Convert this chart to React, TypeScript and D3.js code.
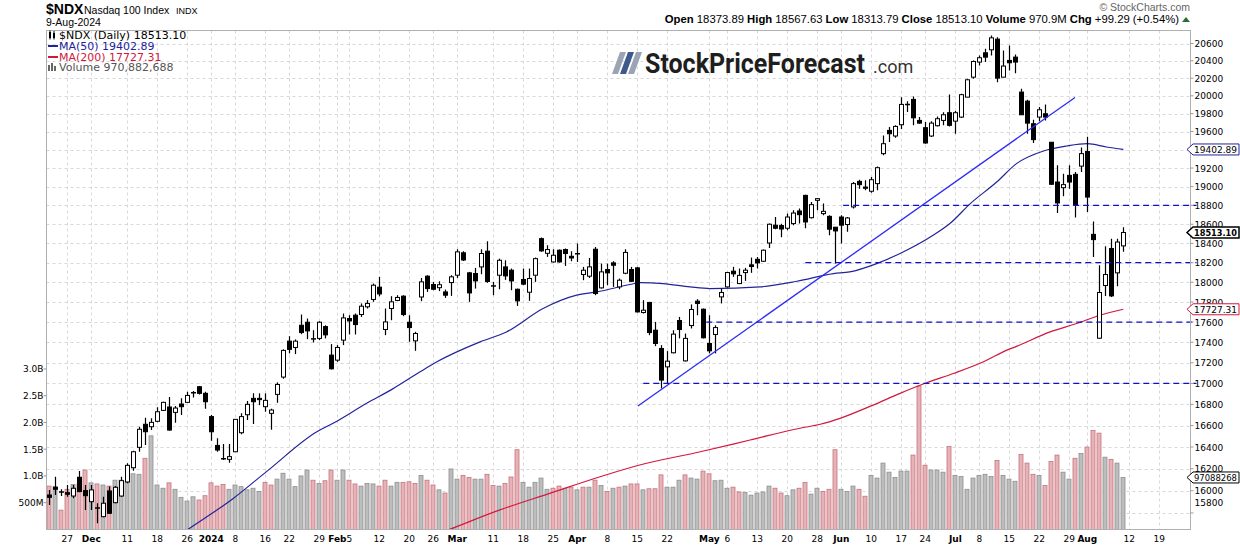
import { useEffect } from 'react';
import * as d3 from 'd3';

const W = 1240;
const H = 546;

// daily OHLC, 21-Nov-2023 .. 9-Aug-2024 (one row per trading day)
const ohlc: [number, number, number, number][] = [
  [15961, 16007, 15872, 15940], [16031, 16127, 15961, 16013], [15985, 16013, 15952, 15990], [15982, 16052, 15946, 15968],
  [15952, 16052, 15931, 16022], [16122, 16179, 15986, 15992], [16001, 16052, 15827, 15955], [15901, 16052, 15827, 16007],
  [15848, 15887, 15708, 15839], [15767, 15946, 15761, 15887], [15998, 16037, 15791, 15797], [15892, 16043, 15887, 16031],
  [15952, 16127, 15946, 16091], [16079, 16249, 16067, 16231], [16209, 16366, 16182, 16356], [16397, 16589, 16356, 16565],
  [16612, 16674, 16419, 16542], [16589, 16668, 16558, 16630], [16640, 16772, 16630, 16730], [16743, 16825, 16740, 16819],
  [16775, 16870, 16551, 16558], [16724, 16784, 16627, 16765], [16803, 16857, 16699, 16778], [16819, 16920, 16819, 16885],
  [16905, 16927, 16866, 16914], [16968, 16974, 16895, 16905], [16905, 16920, 16759, 16825], [16684, 16699, 16458, 16542],
  [16415, 16481, 16356, 16372], [16296, 16428, 16280, 16286], [16286, 16428, 16255, 16311], [16356, 16658, 16356, 16658],
  [16533, 16715, 16518, 16684], [16702, 16831, 16652, 16800], [16857, 16905, 16614, 16825], [16857, 16905, 16793, 16845],
  [16778, 16905, 16730, 16838], [16715, 16759, 16561, 16746], [16895, 17010, 16815, 16990], [17061, 17330, 17045, 17320],
  [17411, 17460, 17291, 17330], [17349, 17428, 17284, 17411], [17568, 17675, 17480, 17496], [17598, 17635, 17431, 17512],
  [17438, 17519, 17398, 17428], [17438, 17608, 17421, 17598], [17555, 17568, 17438, 17473], [17274, 17382, 17134, 17141],
  [17225, 17372, 17209, 17349], [17421, 17685, 17372, 17641], [17635, 17668, 17477, 17611], [17668, 17685, 17477, 17575],
  [17675, 17786, 17651, 17758], [17752, 17819, 17735, 17786], [17826, 17987, 17802, 17970], [17950, 18055, 17858, 17882],
  [17526, 17735, 17470, 17601], [17735, 17859, 17618, 17802], [17816, 17869, 17809, 17846], [17859, 17869, 17658, 17675],
  [17598, 17668, 17405, 17545], [17414, 17503, 17316, 17486], [17851, 18044, 17809, 18004], [18062, 18072, 17902, 17936],
  [17977, 18004, 17919, 17929], [17945, 18010, 17910, 17975], [17902, 17926, 17842, 17869], [17997, 18072, 17862, 18055],
  [18072, 18339, 18044, 18312], [18302, 18319, 18218, 18228], [18096, 18106, 17802, 17892], [18089, 18147, 17936, 18014],
  [18157, 18339, 18082, 18295], [18319, 18422, 17994, 18008], [17965, 18004, 17869, 17960], [18072, 18242, 17929, 18225],
  [18157, 18225, 18024, 18065], [18123, 18140, 17919, 18014], [17929, 17936, 17761, 17812], [18028, 18140, 17970, 17981],
  [17899, 18140, 17812, 18038], [18072, 18253, 18004, 18242], [18449, 18460, 18312, 18322], [18297, 18380, 18260, 18336],
  [18208, 18339, 18201, 18277], [18329, 18336, 18201, 18208], [18336, 18346, 18167, 18295], [18266, 18319, 18215, 18249],
  [18295, 18398, 18208, 18288], [18079, 18157, 18021, 18123], [18062, 18249, 18044, 18157], [18339, 18363, 17869, 17886],
  [17943, 18191, 17936, 18106], [18130, 18191, 17970, 18096], [18198, 18215, 17953, 18174], [17953, 18038, 17929, 18021],
  [18092, 18339, 18082, 18306], [18130, 18157, 18004, 18010], [18147, 18157, 17695, 17701], [17695, 17819, 17685, 17718],
  [17796, 17802, 17470, 17496], [17519, 17601, 17362, 17388], [17339, 17372, 16952, 17032], [17160, 17313, 17000, 17215],
  [17297, 17519, 17291, 17480], [17615, 17651, 17438, 17526], [17218, 17486, 17212, 17438], [17565, 17776, 17536, 17725],
  [17809, 17829, 17668, 17786], [17728, 17735, 17438, 17444], [17388, 17668, 17291, 17316], [17477, 17568, 17291, 17545],
  [17852, 17936, 17786, 17896], [17953, 18106, 17946, 18099], [18113, 18157, 18055, 18086], [17987, 18140, 17981, 18070],
  [18099, 18147, 18014, 18123], [18178, 18253, 18096, 18161], [18235, 18259, 18140, 18198], [18215, 18336, 18208, 18329],
  [18404, 18607, 18353, 18600], [18590, 18676, 18548, 18558], [18586, 18604, 18463, 18550], [18558, 18712, 18537, 18676],
  [18607, 18747, 18590, 18718], [18740, 18765, 18607, 18701], [18906, 18913, 18558, 18624], [18669, 18835, 18660, 18807],
  [18853, 18878, 18747, 18871], [18712, 18818, 18694, 18736], [18683, 18694, 18484, 18548], [18569, 18572, 18191, 18530],
  [18676, 18694, 18398, 18590], [18597, 18676, 18520, 18666], [18783, 19049, 18765, 19032], [19056, 19074, 18978, 19021],
  [18995, 19067, 18960, 18982], [18950, 19102, 18935, 19074], [19032, 19218, 18960, 19204], [19357, 19557, 19339, 19466],
  [19613, 19650, 19485, 19576], [19551, 19669, 19533, 19657], [19676, 19985, 19628, 19903], [19898, 19940, 19818, 19904],
  [19959, 19992, 19669, 19753], [19724, 19761, 19687, 19694], [19643, 19705, 19466, 19474], [19551, 19716, 19540, 19694],
  [19665, 19768, 19657, 19743], [19724, 19816, 19669, 19787], [19810, 20016, 19657, 19669], [19716, 19828, 19576, 19810],
  [19761, 20024, 19750, 20013], [19985, 20193, 19985, 20182], [20212, 20404, 20193, 20392], [20385, 20461, 20346, 20435],
  [20492, 20538, 20385, 20442], [20527, 20693, 20461, 20666], [20651, 20674, 20155, 20201], [20212, 20519, 20212, 20339],
  [20404, 20577, 20289, 20377], [20442, 20473, 20258, 20385], [20042, 20080, 19787, 19787], [19940, 19955, 19576, 19694],
  [19687, 19731, 19474, 19511], [19761, 19873, 19716, 19843], [19798, 19903, 19724, 19761], [19482, 19482, 19021, 19025],
  [19049, 19230, 18718, 18825], [18988, 19139, 18896, 19021], [19121, 19230, 18978, 19049], [19132, 19157, 18670, 18800],
  [19221, 19424, 19157, 19357], [19380, 19543, 18729, 18888], [18494, 18630, 18259, 18439], [17440, 18174, 17434, 17896],
  [17967, 18370, 17862, 18079], [18346, 18449, 17852, 17862], [18096, 18449, 17960, 18413.81], [18373.89, 18567.63, 18313.79, 18513.1],
];

// volume, billions of shares
const volume: number[] = [
  0.81, 0.80, 0.36, 0.75, 0.84, 0.85, 1.11, 0.87, 0.85, 0.83, 0.81, 0.92, 0.92, 0.89, 1.04, 1.03, 1.33, 1.75, 0.83, 0.77,
  0.87, 0.75, 0.60, 0.53, 0.61, 0.55, 0.63, 0.87, 0.81, 0.84, 0.75, 0.83, 0.80, 0.74, 0.77, 0.71, 0.88, 0.83, 0.94, 1.05,
  0.94, 0.80, 1.00, 1.11, 0.92, 0.86, 0.91, 1.11, 0.92, 1.11, 0.92, 0.85, 0.81, 0.86, 0.85, 0.81, 0.92, 0.81, 0.88, 0.88,
  0.89, 0.86, 1.01, 0.92, 0.83, 0.74, 0.68, 1.13, 0.94, 1.01, 0.97, 0.94, 0.94, 1.03, 0.82, 0.81, 0.86, 0.98, 1.49, 0.88,
  0.79, 0.88, 0.96, 0.75, 0.77, 0.81, 0.77, 0.79, 0.74, 0.79, 0.79, 0.92, 0.82, 0.71, 0.77, 0.79, 0.81, 0.85, 0.85, 0.74,
  0.76, 0.76, 1.02, 0.79, 0.79, 0.92, 1.02, 0.96, 0.94, 1.09, 1.04, 0.91, 0.92, 0.77, 0.79, 0.70, 0.69, 0.64, 0.68, 0.70,
  0.81, 0.77, 0.68, 0.63, 0.74, 0.77, 0.88, 0.66, 0.77, 0.71, 0.75, 1.49, 0.75, 0.71, 0.81, 0.75, 0.62, 1.01, 0.96, 1.24,
  1.07, 0.97, 1.09, 1.09, 1.39, 2.68, 1.20, 1.11, 1.11, 1.07, 1.55, 1.01, 0.99, 0.75, 0.96, 1.01, 1.03, 0.99, 1.29, 1.01,
  0.94, 0.90, 1.40, 1.24, 1.03, 1.01, 0.82, 1.27, 1.39, 1.07, 0.94, 1.33, 1.42, 1.54, 1.85, 1.80, 1.35, 1.31, 1.24, 0.971,
];

// moving averages: [day index, value]
const ma50: [number, number][] = [
  [20, 15540], [23, 15650], [30.6, 15928], [36.3, 16178], [44.6, 16542], [47.3, 16621], [52.9, 16810], [57.1, 16943],
  [61.8, 17112], [64.6, 17209], [71.8, 17404], [76.2, 17502], [82.3, 17735], [87.9, 17869], [91.2, 17902], [96.8, 17977],
  [98.5, 17997], [102.3, 17987], [106.8, 17953], [110.1, 17936], [118.5, 17953], [124.6, 18010], [130.7, 18089],
  [133.4, 18106], [137.9, 18191], [141.8, 18295], [147.3, 18484], [150.1, 18607], [153.5, 18818], [157.9, 19049],
  [161.2, 19248], [165.7, 19386], [169.6, 19441], [173, 19466], [176.2, 19430], [179, 19402.89],
];
const ma200: [number, number][] = [
  [64, 15600], [66.5, 15650], [75.1, 15827], [83.4, 15976], [91.8, 16127], [98.4, 16234], [108.5, 16356], [116.8, 16465],
  [125.1, 16575], [128.5, 16612], [131.8, 16668], [137.3, 16793], [141.8, 16905], [146.2, 17006], [150.7, 17096],
  [155.7, 17209], [159.6, 17323], [161.2, 17360], [166.8, 17502], [171.2, 17585], [175.1, 17668], [179, 17727.31],
];

// annotations
const trendLine: [number, number][] = [[98.1, 16784], [170.95, 19982]];
const levels: { value: number; from: number }[] = [
  { value: 18800, from: 132.3 }, { value: 18200, from: 126 }, { value: 17600, from: 109.5 }, { value: 17000, from: 99 },
];

const priceTicks = [15800, 16000, 16200, 16400, 16600, 16800, 17000, 17200, 17400, 17600, 17800, 18000, 18200, 18400,
  18600, 18800, 19000, 19200, 19400, 19600, 19800, 20000, 20200, 20400, 20600];
const volTicks: { v: number; label: string }[] = [
  { v: 0.5, label: '500M' }, { v: 1.0, label: '1.0B' }, { v: 1.5, label: '1.5B' }, { v: 2.0, label: '2.0B' },
  { v: 2.5, label: '2.5B' }, { v: 3.0, label: '3.0B' },
];
const dateTicks: { i: number; label: string; bold?: boolean }[] = [
  { i: 3, label: '27' }, { i: 7, label: 'Dec', bold: true }, { i: 13, label: '11' }, { i: 18, label: '18' },
  { i: 23, label: '26' }, { i: 27, label: '2024', bold: true }, { i: 31, label: '8' }, { i: 36, label: '16' },
  { i: 40, label: '22' }, { i: 45, label: '29' }, { i: 48, label: 'Feb', bold: true }, { i: 50, label: '5' },
  { i: 55, label: '12' }, { i: 60, label: '20' }, { i: 64, label: '26' }, { i: 68, label: 'Mar', bold: true },
  { i: 74, label: '11' }, { i: 79, label: '18' }, { i: 84, label: '25' }, { i: 88, label: 'Apr', bold: true },
  { i: 93, label: '8' }, { i: 98, label: '15' }, { i: 103, label: '22' }, { i: 110, label: 'May', bold: true },
  { i: 113, label: '6' }, { i: 118, label: '13' }, { i: 123, label: '20' }, { i: 128, label: '28' },
  { i: 132, label: 'Jun', bold: true }, { i: 137, label: '10' }, { i: 142, label: '17' }, { i: 146, label: '24' },
  { i: 151, label: 'Jul', bold: true }, { i: 155, label: '8' }, { i: 160, label: '15' }, { i: 165, label: '22' },
  { i: 170, label: '29' }, { i: 173, label: 'Aug', bold: true }, { i: 180, label: '12' }, { i: 185, label: '19' },
];

const AX = 'DejaVu Sans, Verdana, sans-serif';
const AR = 'Liberation Sans, Arial, sans-serif';

function Tag({ y, text, color, bold }: { y: number; text: string; color: string; bold?: boolean }) {
  const h = 5.5;
  return (
    <g>
      <path d={`M1187,${y} L1193,${y - h} L1239,${y - h} L1239,${y + h} L1193,${y + h} Z`}
        fill="#fff" stroke={color} strokeWidth={bold ? 1.5 : 1} />
      <text x={1194} y={y + 3.3} fontFamily={AX} fontSize={bold ? 9.2 : 8.8} fontWeight={bold ? 'bold' : 'normal'}
        fill="#000" textLength={43} lengthAdjust="spacingAndGlyphs">{text}</text>
    </g>
  );
}

export default function App() {
  useEffect(() => { document.body.style.margin = '0'; }, []);

  const L = 46.5, R = 1190.5, T = 30.5, B = 529.5;
  const x = d3.scaleLinear().domain([(L - 49.3) / 6, (R - 49.3) / 6]).range([L, R]);
  const y = d3.scaleLog().domain([15653, 20752]).range([B, T]);
  const yv = d3.scaleLinear().domain([0, 1]).range([529.4, 529.4 - 53.48]);

  const line = d3.line<[number, number]>().x(d => x(d[0])).y(d => y(d[1])).curve(d3.curveMonotoneX);
  const down = ohlc.map((d, i) => (i === 0 ? true : d[3] < ohlc[i - 1][3]));
  const last = ohlc[ohlc.length - 1];
  const tagYs = [y(19402.89), y(last[3]), y(17727.31), yv(volume[volume.length - 1])];

  return (
    <svg width={W} height={H} style={{ display: 'block', background: '#fff' }}>
      <defs>
        <clipPath id="plot"><rect x={L} y={T} width={R - L} height={B - T} /></clipPath>
      </defs>

      {/* header */}
      <text x={46} y={14} fontFamily={AR} fontSize={14} fontWeight="bold">$NDX</text>
      <text x={84} y={14} fontFamily={AR} fontSize={10.5}>Nasdaq 100 Index</text>
      <text x={176} y={14} fontFamily={AR} fontSize={9}>INDX</text>
      <text x={46} y={26} fontFamily={AR} fontSize={10.5}>9-Aug-2024</text>
      <text x={1190} y={11} textAnchor="end" fontFamily={AR} fontSize={10.5} fill="#666">© StockCharts.com</text>
      <text x={1179} y={23} textAnchor="end" fontFamily={AR} fontSize={11.3}>
        <tspan fontWeight="bold">Open</tspan> 18373.89 <tspan fontWeight="bold">High</tspan> 18567.63{' '}
        <tspan fontWeight="bold">Low</tspan> 18313.79 <tspan fontWeight="bold">Close</tspan> 18513.10{' '}
        <tspan fontWeight="bold">Volume</tspan> 970.9M <tspan fontWeight="bold">Chg</tspan> +99.29 (+0.54%)
      </text>
      <path d="M1182,22 L1186,17 L1190,22 Z" fill="#2f6b35" />

      {/* grid */}
      <g stroke="#d8d8d8" strokeDasharray="3,3" strokeWidth={1}>
        {priceTicks.map(p => <line key={p} x1={L} x2={R} y1={Math.round(y(p)) + 0.5} y2={Math.round(y(p)) + 0.5} />)}
        {dateTicks.filter(t => x(t.i) < R).map(t => (
          <line key={t.i} x1={Math.round(x(t.i)) + 0.5} x2={Math.round(x(t.i)) + 0.5} y1={T} y2={B} />
        ))}
      </g>

      <g clipPath="url(#plot)">
        {/* volume */}
        {volume.map((v, i) => (
          <rect key={i} x={Math.round(x(i)) - 2} y={yv(v)} width={4} height={yv(0) - yv(v)}
            fill={down[i] ? '#e6b3b8' : '#bdbdbd'} stroke={down[i] ? '#c7727b' : '#8e8e8e'} strokeWidth={0.8} />
        ))}

        {/* moving averages */}
        <path d={line(ma200) ?? ''} fill="none" stroke="#d1193e" strokeWidth={1.2} />
        <path d={line(ma50) ?? ''} fill="none" stroke="#23239c" strokeWidth={1.2} />

        {/* candles */}
        {ohlc.map(([o, h, l, c], i) => {
          const cx = Math.round(x(i)) + 0.5;
          const top = y(Math.max(o, c));
          const bot = y(Math.min(o, c));
          const up = c >= o;
          return (
            <g key={i}>
              <line x1={cx} x2={cx} y1={y(h)} y2={y(l)} stroke="#000" strokeWidth={1.2} />
              {bot - top < 1.2
                ? <line x1={cx - 2.5} x2={cx + 2.5} y1={(top + bot) / 2} y2={(top + bot) / 2} stroke="#000" strokeWidth={1.5} />
                : <rect x={cx - 2} y={top} width={4} height={bot - top} fill={up ? '#fff' : '#000'} stroke="#000" strokeWidth={1} />}
            </g>
          );
        })}

        {/* annotations */}
        <line x1={x(trendLine[0][0])} y1={y(trendLine[0][1])} x2={x(trendLine[1][0])} y2={y(trendLine[1][1])}
          stroke="#2b2bf5" strokeWidth={1.3} />
      </g>
      {levels.map(lv => (
        <line key={lv.value} x1={x(lv.from)} x2={R + 6} y1={y(lv.value)} y2={y(lv.value)}
          stroke="#1010c8" strokeWidth={1.3} strokeDasharray="6,4" />
      ))}

      {/* frame */}
      <rect x={L} y={T} width={R - L} height={B - T} fill="none" stroke="#b0b0b0" strokeWidth={1} />

      {/* right price axis */}
      {priceTicks.map(p => (
        <g key={p}>
          <line x1={R} x2={R + 3} y1={y(p)} y2={y(p)} stroke="#999" />
          {tagYs.every(t => Math.abs(t - y(p)) > 5) && (
            <text x={R + 4} y={Math.min(y(p), 502) + 3.5} fontFamily={AX} fontSize={9} fill="#000">{p}</text>
          )}
        </g>
      ))}
      <Tag y={tagYs[0]} text="19402.89" color="#23239c" />
      <Tag y={tagYs[1]} text="18513.10" color="#000" bold />
      <Tag y={tagYs[2]} text="17727.31" color="#d1193e" />
      <Tag y={tagYs[3]} text="97088268" color="#000" />

      {/* left volume axis */}
      {volTicks.map(t => (
        <g key={t.label}>
          <line x1={L - 3} x2={L} y1={yv(t.v)} y2={yv(t.v)} stroke="#999" />
          <text x={L - 3} y={yv(t.v) + 3.5} textAnchor="end" fontFamily={AX} fontSize={9}>{t.label}</text>
        </g>
      ))}

      {/* date axis */}
      {dateTicks.map(t => (
        <text key={t.i} x={x(t.i)} y={541.5} textAnchor="middle" fontFamily={AX} fontSize={9}
          fontWeight={t.bold ? 'bold' : 'normal'}>{t.label}</text>
      ))}

      {/* legend */}
      <g fontFamily={AX} fontSize={11}>
        <g fill="#000">
          <rect x={49} y={32} width={2} height={6} />
          <line x1={50} x2={50} y1={30.5} y2={39.5} stroke="#000" />
          <rect x={53} y={33} width={2} height={5} />
          <line x1={54} x2={54} y1={31} y2={39.5} stroke="#000" />
        </g>
        <text x={59} y={38.5}>$NDX (Daily) 18513.10</text>
        <line x1={48} x2={58} y1={46} y2={46} stroke="#23239c" strokeWidth={2} />
        <text x={59} y={50} fill="#23239c">MA(50) 19402.89</text>
        <line x1={48} x2={58} y1={57} y2={57} stroke="#d1193e" strokeWidth={2} />
        <text x={59} y={61} fill="#d1193e">MA(200) 17727.31</text>
        <g fill="#666">
          <rect x={48} y={65} width={2} height={6} />
          <rect x={51} y={63} width={2} height={8} />
          <rect x={54} y={66} width={2} height={5} />
        </g>
        <text x={59} y={71} fill="#555">Volume 970,882,688</text>
      </g>

      {/* watermark logo */}
      <g>
        <path d="M620,52 L626,52 L618,74 L612,74 Z" fill="#9aa4b4" />
        <path d="M628,52 L634,52 L626,74 L620,74 Z" fill="#3d5a8c" />
        <path d="M636,52 L642,52 L634,74 L628,74 Z" fill="#9aa4b4" />
        <text x={645} y={73} fontFamily="Roboto, Open Sans, sans-serif" fontSize={27} fontWeight="bold" fill="#1e1e1e"
          textLength={220} lengthAdjust="spacingAndGlyphs">StockPriceForecast</text>
        <text x={873} y={73} fontFamily="Roboto, Open Sans, sans-serif" fontSize={18} fill="#333">.com</text>
      </g>
    </svg>
  );
}
